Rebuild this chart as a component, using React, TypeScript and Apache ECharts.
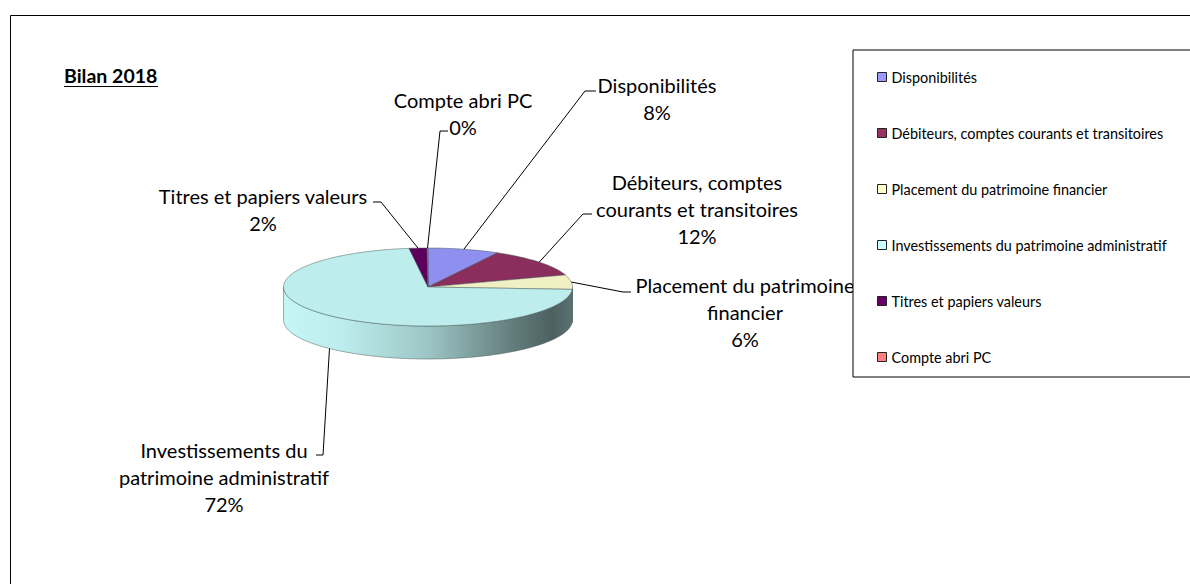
import React, { useEffect, useRef } from "react";
import * as echarts from "echarts";

// ---- data ----
const title = "Bilan 2018";
const categories = [
  "Disponibilités",
  "Débiteurs, comptes courants et transitoires",
  "Placement du patrimoine financier",
  "Investissements du patrimoine administratif",
  "Titres et papiers valeurs",
  "Compte abri PC",
];
const values = [8, 12, 6, 72, 2, 0.1];
const labelLines = [
  ["Disponibilités"],
  ["Débiteurs, comptes", "courants et transitoires"],
  ["Placement du patrimoine", "financier"],
  ["Investissements du", "patrimoine administratif"],
  ["Titres et papiers valeurs"],
  ["Compte abri PC"],
];

// ---- styles / layout ----
const legendColors = ["#9999FF", "#993366", "#FFFFCC", "#CCFFFF", "#660066", "#FF8080"];
const topColors = ["#8F8FEF", "#8B2D5D", "#F0F0C4", "#BDEDED", "#5C005C", "#F07878"];
const PIE = { cx: 428, cy: 287, rx: 144.5, ry: 39, depth: 33 };
const labelLayout = [
  { x: 657, y: 85, elbow: [585, 91], end: [596, 91] },
  { x: 697, y: 182, elbow: [583, 214], end: [592, 214] },
  { x: 745, y: 285, elbow: [623, 292], end: [631, 292] },
  { x: 224, y: 450, elbow: [323, 455], end: [316, 455] },
  { x: 263, y: 196, elbow: [381, 202], end: [373, 202] },
  { x: 463, y: 100, elbow: [440, 131], end: [448, 131] },
];
const LABEL_FONT = "Lato";
const LABEL_SIZE = 20;
const LINE_H = 27;

function shade(hex: string, f: number): string {
  const n = parseInt(hex.slice(1), 16);
  const r = Math.min(255, Math.round(((n >> 16) & 255) * f));
  const g = Math.min(255, Math.round(((n >> 8) & 255) * f));
  const b = Math.min(255, Math.round((n & 255) * f));
  return "rgb(" + r + "," + g + "," + b + ")";
}

function pt(theta: number, dy: number): number[] {
  return [PIE.cx + PIE.rx * Math.sin(theta), PIE.cy - PIE.ry * Math.cos(theta) + dy];
}

function arc(a: number, b: number, dy: number): number[][] {
  const n = Math.max(2, Math.ceil(Math.abs(b - a) / (Math.PI / 180)));
  const out: number[][] = [];
  for (let k = 0; k <= n; k++) out.push(pt(a + ((b - a) * k) / n, dy));
  return out;
}

function makeRender(i: number) {
  return function (params: any, api: any) {
    const total = values.reduce((s, v) => s + v, 0);
    let acc = 0;
    for (let j = 0; j < i; j++) acc += values[j];
    const v = api.value(0);
    const a0 = (acc / total) * Math.PI * 2;
    const a1 = ((acc + v) / total) * Math.PI * 2;
    const children: any[] = [];
    const edge = "rgba(70,85,85,0.6)";
    // side face (front half only)
    const s0 = Math.max(a0, Math.PI / 2);
    const s1 = Math.min(a1, (Math.PI * 3) / 2);
    if (s1 > s0) {
      const top = arc(s0, s1, 0);
      const bottom = arc(s1, s0, PIE.depth);
      const c = topColors[i];
      children.push({
        type: "polygon",
        shape: { points: top.concat(bottom) },
        style: {
          fill: {
            type: "linear",
            x: PIE.cx - PIE.rx,
            y: 0,
            x2: PIE.cx + PIE.rx,
            y2: 0,
            global: true,
            colorStops: [
              { offset: 0, color: shade(c, 1.04) },
              { offset: 0.2, color: shade(c, 1.0) },
              { offset: 0.5, color: shade(c, 0.83) },
              { offset: 0.8, color: shade(c, 0.52) },
              { offset: 0.93, color: shade(c, 0.41) },
              { offset: 1, color: shade(c, 0.48) },
            ],
          },
          stroke: edge,
          lineWidth: 0.8,
        },
      });
    }
    // top face
    if (a1 - a0 > 1e-4) {
      children.push({
        type: "polygon",
        shape: { points: [[PIE.cx, PIE.cy]].concat(arc(a0, a1, 0)) },
        style: { fill: topColors[i], stroke: edge, lineWidth: 0.8 },
      });
    }
    // label + leader
    const mid = (a0 + a1) / 2;
    const front = Math.cos(mid) < 0;
    const anchor = pt(mid, front ? PIE.depth : 0);
    const L = labelLayout[i];
    children.push({
      type: "polyline",
      shape: { points: [anchor, L.elbow, L.end] },
      style: { stroke: "#000", lineWidth: 1, fill: null },
    });
    const pct = Math.round((v / total) * 100) + "%";
    children.push({
      type: "text",
      style: {
        text: labelLines[i].concat([pct]).join("\n"),
        x: L.x,
        y: L.y - LINE_H / 2,
        align: "center",
        verticalAlign: "top",
        lineHeight: LINE_H,
        fontSize: LABEL_SIZE,
        fontFamily: LABEL_FONT,
        fill: "#000",
      },
    });
    return { type: "group", children };
  };
}

export default function App() {
  const ref = useRef<HTMLDivElement>(null);
  useEffect(() => {
    if (!ref.current) return;
    const chart = echarts.init(ref.current, undefined, { renderer: "svg" });
    chart.setOption({
      animation: false,
      backgroundColor: "#fff",
      title: {
        text: title,
        left: 64,
        top: 65,
        padding: 0,
        textStyle: { fontFamily: "Lato", fontWeight: "bold", fontSize: 19.5, color: "#000" },
      },
      graphic: [
        {
          type: "rect",
          z: -1,
          shape: { x: 10.5, y: 15.5, width: 1400, height: 800 },
          style: { fill: "none", stroke: "#000", lineWidth: 1 },
          silent: true,
        },
        {
          type: "line",
          shape: { x1: 64, y1: 86.5, x2: 158, y2: 86.5 },
          style: { stroke: "#000", lineWidth: 1.2 },
          silent: true,
        },
      ],
      legend: {
        orient: "vertical",
        left: 853,
        top: 50,
        padding: [19, 80, 12, 24],
        itemGap: 40,
        itemWidth: 9,
        itemHeight: 9,
        icon: "rect",
        itemStyle: { borderColor: "#222", borderWidth: 1 },
        backgroundColor: "#fff",
        borderColor: "#000",
        borderWidth: 1,
        textStyle: { fontFamily: "Lato", fontSize: 14.4, lineHeight: 16, color: "#000" },
        data: categories,
        selectedMode: false,
      },
      series: categories.map((name, i) => ({
        type: "custom",
        name,
        coordinateSystem: "none",
        itemStyle: { color: legendColors[i] },
        renderItem: makeRender(i),
        data: [[values[i]]],
        silent: true,
      })),
    });
    return () => chart.dispose();
  }, []);
  return (
    <div
      ref={ref}
      style={{ position: "absolute", left: 0, top: 0, width: 1190, height: 584, background: "#fff" }}
    />
  );
}
